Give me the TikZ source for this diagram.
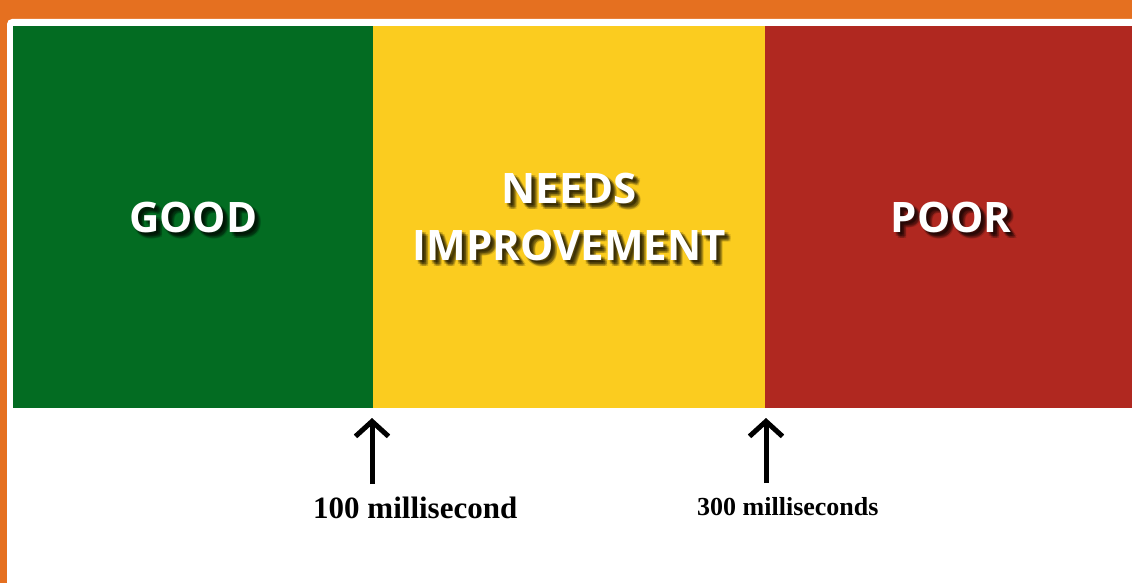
\documentclass[tikz,border=0pt]{standalone}
\usepackage{fontspec}
\setsansfont{Open Sans}
\setmainfont{Liberation Serif}
\usepackage{tikz}
\usetikzlibrary{arrows.meta}
\definecolor{frameorange}{RGB}{229,112,32}
\definecolor{goodgreen}{RGB}{3,108,34}
\definecolor{needsyellow}{RGB}{251,204,31}
\definecolor{poorred}{RGB}{176,40,32}
\tikzset{
  bar/.style={fill=#1, draw=none, anchor=north west, inner sep=0pt},
  zone/.style={text=white, font=\sffamily\bfseries\fontsize{42}{57}\selectfont, align=center, inner sep=0pt},
  zoneshadow/.style={zone, text=black, text opacity=0.15},
  limit/.style={-{Straight Barb[length=15pt,width=33pt,line width=5pt]}, line width=5pt, black},
  marklabel/.style={font=\bfseries\fontsize{#1}{#1}\selectfont, anchor=base west, inner sep=0pt}
}

\begin{document}
\begin{tikzpicture}[x=1pt,y=-1pt]
  \useasboundingbox (0,0) rectangle (1132,583);
  \clip (0,0) rectangle (1132,583);
  %
  % FRAME
  \fill[frameorange] (0,0) rectangle (1132,583);
  \fill[white, rounded corners=5pt] (7,19) rectangle (1145,600);
  %
  % BARS
  \node[bar=goodgreen, minimum width=360pt, minimum height=382pt] (good) at (13,26) {};
  \node[bar=needsyellow, minimum width=392pt, minimum height=382pt] (needs) at (373,26) {};
  \node[bar=poorred, minimum width=372pt, minimum height=382pt] (poor) at (765,26) {};
  %
  % ZONE NAMES (with soft shadow)
  \foreach \dx/\dy [count=\i] in {4/4, 2/4, 6/4, 4/2, 4/6, 2/2, 6/6, 3/3, 5/5} {
    \node[zoneshadow] (goodsh\i) at ([shift={(\dx,\dy)}]good.center) {GOOD};
    \node[zoneshadow] (needssh\i) at ([shift={(\dx,\dy)}]needs.center) {NEEDS\\IMPROVEMENT};
    \node[zoneshadow] (poorsh\i) at ([shift={(\dx,\dy)}]poor.center) {POOR};
  }
  \node[zone] (goodtxt) at (good.center) {GOOD};
  \node[zone] (needstxt) at (needs.center) {NEEDS\\IMPROVEMENT};
  \node[zone] (poortxt) at (poor.center) {POOR};
  %
  % LIMITS
  \coordinate (tip100) at (372,418);
  \coordinate (tail100) at (372,484);
  \coordinate (tip300) at (766,418);
  \coordinate (tail300) at (766,483);
  \draw[limit] (tail100) -- (tip100);
  \draw[limit] (tail300) -- (tip300);
  \node[marklabel=31] (lab100) at (313,518) {100 millisecond};
  \node[marklabel=26] (lab300) at (697,515) {300 milliseconds};
  %
\end{tikzpicture}
\end{document}
